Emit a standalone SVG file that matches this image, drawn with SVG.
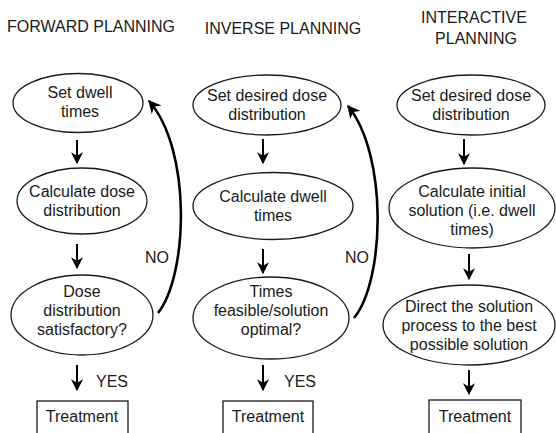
<svg xmlns="http://www.w3.org/2000/svg" width="556" height="433" viewBox="0 0 556 433">
<defs>
<style>
text{font-family:"Liberation Sans",Arial,sans-serif;font-size:16px;fill:#1a1a1a;text-anchor:middle}
.title{font-size:16px}
.node ellipse{fill:#fff;stroke:#1a1a1a;stroke-width:1.3}
.node rect{fill:#fff;stroke:#1a1a1a;stroke-width:1.3}
.arr{stroke:#000;stroke-width:2;fill:none;marker-end:url(#ah)}
.loop{stroke:#000;stroke-width:2.6;fill:none;marker-end:url(#ah2)}
</style>
<marker id="ah" viewBox="0 0 10 10" refX="9" refY="5" markerWidth="6" markerHeight="6" orient="auto" markerUnits="strokeWidth">
<path d="M0,0 L10,5 L0,10 L3,5 z" fill="#000"/>
</marker>
<marker id="ah2" viewBox="0 0 10 10" refX="9" refY="5" markerWidth="5" markerHeight="5" orient="auto" markerUnits="strokeWidth">
<path d="M0,0 L10,5 L0,10 L3,5 z" fill="#000"/>
</marker>
</defs>
<rect width="556" height="433" fill="#fff"/>
<g id="titles">
<text class="title" x="91" y="32">FORWARD PLANNING</text>
<text class="title" x="283" y="34">INVERSE PLANNING</text>
<text class="title" x="474" y="23">INTERACTIVE</text>
<text class="title" x="476" y="44">PLANNING</text>
</g>
<g id="f1" class="node"><ellipse cx="78" cy="103" rx="65" ry="29.5"/><text x="80" y="98">Set dwell</text><text x="80" y="117">times</text></g>
<g id="f2" class="node"><ellipse cx="82" cy="201" rx="65" ry="33"/><text x="82" y="197">Calculate dose</text><text x="82" y="216">distribution</text></g>
<g id="f3" class="node"><ellipse cx="82" cy="315" rx="71" ry="40"/><text x="82" y="297">Dose</text><text x="82" y="316">distribution</text><text x="82" y="335">satisfactory?</text></g>
<g id="f4" class="node"><rect x="37" y="401" width="91" height="40"/><text x="82" y="422">Treatment</text></g>
<g id="i1" class="node"><ellipse cx="267" cy="105" rx="74" ry="30"/><text x="267" y="101">Set desired dose</text><text x="267" y="120">distribution</text></g>
<g id="i2" class="node"><ellipse cx="273" cy="206" rx="80" ry="33.5"/><text x="273" y="202">Calculate dwell</text><text x="273" y="221">times</text></g>
<g id="i3" class="node"><ellipse cx="271" cy="318" rx="78" ry="41"/><text x="271" y="297">Times</text><text x="271" y="316">feasible/solution</text><text x="271" y="335">optimal?</text></g>
<g id="i4" class="node"><rect x="223" y="401" width="90" height="40"/><text x="268" y="422">Treatment</text></g>
<g id="n1" class="node"><ellipse cx="471" cy="105" rx="74" ry="30"/><text x="471" y="101">Set desired dose</text><text x="471" y="120">distribution</text></g>
<g id="n2" class="node"><ellipse cx="472" cy="208" rx="83" ry="40"/><text x="472" y="197">Calculate initial</text><text x="472" y="216">solution (i.e. dwell</text><text x="472" y="235">times)</text></g>
<g id="n3" class="node"><ellipse cx="469" cy="325" rx="86" ry="40"/><text x="469" y="312">Direct the solution</text><text x="469" y="331">process to the best</text><text x="469" y="350">possible solution</text></g>
<g id="n4" class="node"><rect x="429" y="400" width="92" height="41"/><text x="475" y="422">Treatment</text></g>
<g id="connectors">
<line class="arr" x1="77" y1="140" x2="77" y2="163"/>
<line class="arr" x1="77" y1="244" x2="77" y2="268"/>
<line class="arr" x1="77" y1="365" x2="77" y2="390"/>
<path class="loop" d="M158,313 C188,275 192,150 149,101"/>
<line class="arr" x1="263" y1="139" x2="263" y2="163"/>
<line class="arr" x1="263" y1="249" x2="263" y2="273"/>
<line class="arr" x1="263" y1="365" x2="263" y2="390"/>
<path class="loop" d="M354,318 C385,280 388,155 348,106"/>
<line class="arr" x1="464" y1="139" x2="464" y2="164"/>
<line class="arr" x1="469" y1="254" x2="469" y2="279"/>
<line class="arr" x1="469" y1="370" x2="469" y2="394"/>
</g>
<g id="labels">
<text x="157" y="263">NO</text>
<text x="357" y="263">NO</text>
<text x="112" y="387">YES</text>
<text x="300" y="387">YES</text>
</g>
</svg>
